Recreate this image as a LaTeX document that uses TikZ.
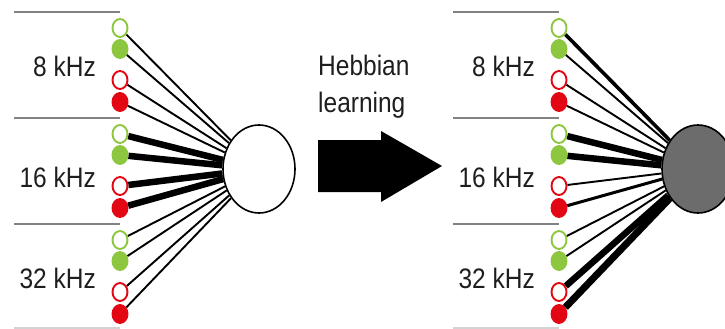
\documentclass[tikz,border=0pt]{standalone}
\usepackage{fontspec}
\usepackage{graphicx}
\setmainfont{Liberation Sans}
\usetikzlibrary{shapes.geometric}
\definecolor{tonegreen}{RGB}{141,198,63}
\definecolor{tonered}{RGB}{227,6,19}
\definecolor{rulegray}{RGB}{130,130,130}
\definecolor{celldark}{RGB}{108,108,108}
\definecolor{inktext}{RGB}{30,30,30}
\newcommand\tallLabel[1]{\scalebox{1}[1.15]{#1}}
\pgfdeclarelayer{wires}
\pgfsetlayers{wires,main}
\begin{document}
\begin{tikzpicture}[x=1pt,y=-1pt,
  lbl/.style={font=\fontsize{24.5}{28}\selectfont, text=inktext, inner sep=0pt},
  sep/.style={draw=rulegray, line width=1.5pt},
  unit/.style={ellipse, minimum width=15pt, minimum height=18pt, inner sep=0pt, line width=1.9pt},
  gopen/.style={unit, draw=tonegreen, fill=white},
  gfull/.style={unit, draw=tonegreen, fill=tonegreen},
  ropen/.style={unit, draw=tonered, fill=white},
  rfull/.style={unit, draw=tonered, fill=tonered},
  cell/.style={ellipse, minimum width=72pt, minimum height=88pt, inner sep=0pt,
               draw=black, line width=1.6pt}
]
\clip (0,0) rectangle (725,329);

% two panels: before and after learning
\foreach \p/\dx in {L/0, R/439}{
  % frequency band separators
  \foreach \b in {12,118,224}
    \draw[sep] ({14+\dx},\b) -- ({120+\dx},\b);
  \draw[draw=rulegray!35, line width=1.5pt] ({14+\dx},328) -- ({120+\dx},328);
  % band labels
  \node[lbl, anchor=base east] (\p-lab1) at ({96+\dx},77)  {\tallLabel{8 kHz}};
  \node[lbl, anchor=base east] (\p-lab2) at ({96+\dx},187) {\tallLabel{16 kHz}};
  \node[lbl, anchor=base east] (\p-lab3) at ({96+\dx},288) {\tallLabel{32 kHz}};
  % input units
  \foreach \g/\b in {1/12, 2/118, 3/224}
    \foreach \k/\o/\st in {1/16/gopen, 2/37/gfull, 3/68/ropen, 4/90/rfull}
      \node[\st] (\p-\g-\k) at ({120+\dx},{\b+\o}) {};
}

% output neurons
\node[cell, fill=white]    (cellL) at (259,169) {};
\node[cell, fill=celldark] (cellR) at (698,169) {};

% synaptic weights
\begin{pgfonlayer}{wires}
  \foreach \g/\w in {1/1.9, 2/6.5, 3/1.9}
    \foreach \k in {1,...,4}
      \draw[line width=\w pt] (L-\g-\k) -- (cellL);
  \foreach \g/\k/\w in {1/1/3.6, 1/2/1.9, 1/3/1.9, 1/4/1.9,
                        2/1/6.5, 2/2/6.5, 2/3/1.9, 2/4/3.0,
                        3/1/1.9, 3/2/1.9, 3/3/6.5, 3/4/7.0}
    \draw[line width=\w pt] (R-\g-\k) -- (cellR);
\end{pgfonlayer}

% learning step
\node[lbl, anchor=base west] (hebb)  at (318,75)  {\tallLabel{Hebbian}};
\node[lbl, anchor=base west] (learn) at (318,112) {\tallLabel{learning}};
\fill[black] (318,140) -- (381,140) -- (381,131) -- (442,166)
             -- (381,202) -- (381,192) -- (318,192) -- cycle;
\end{tikzpicture}
\end{document}
